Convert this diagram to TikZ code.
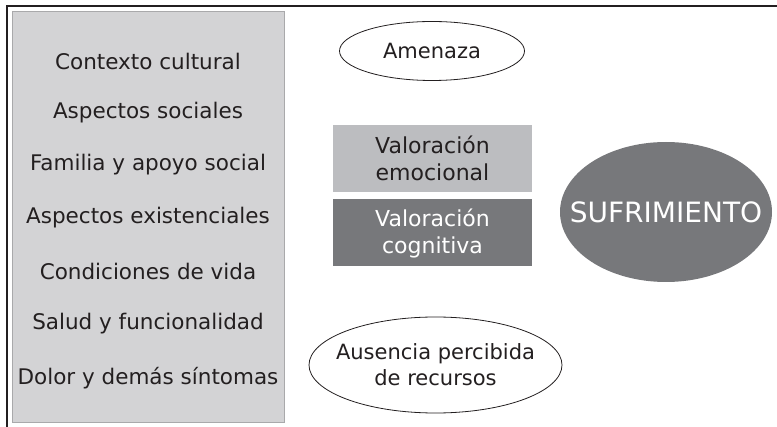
\documentclass[tikz,border=0pt]{standalone}
\usepackage{fontspec}
\setmainfont{DejaVu Sans}
\usetikzlibrary{shapes.geometric}
\definecolor{panelgray}{HTML}{D3D3D5}
\definecolor{panelline}{HTML}{A9A9AB}
\definecolor{lightbox}{HTML}{BCBDC0}
\definecolor{darkbox}{HTML}{77787B}
\definecolor{txt}{HTML}{231F20}
\tikzset{
  factor/.style={font=\fontsize{21.5}{25}\selectfont, text=txt, inner sep=0pt},
  oval/.style={ellipse, draw=txt, line width=0.8pt, fill=white, inner sep=0pt},
  ovaltext/.style={inner sep=0pt, text=txt, align=center, font=\fontsize{21}{26}\selectfont},
  valbox/.style={rectangle, minimum width=199pt, minimum height=67pt, inner sep=0pt, align=center, font=\fontsize{22}{27}\selectfont},
}
\begin{document}
\begin{tikzpicture}[x=1pt,y=1pt]
\useasboundingbox (0,0) rectangle (777,-427);
\draw[line width=2pt, color=txt] (777,-6) -- (7,-6) -- (7,-427);
\node[rectangle, fill=panelgray, draw=panelline, line width=0.6pt, minimum width=272pt, minimum height=411pt, inner sep=0pt] (panel) at (148,-216.5) {};
\node[factor] (f1) at (148,-61) {Contexto cultural};
\node[factor] (f2) at (148,-113) {Aspectos sociales};
\node[factor] (f3) at (148,-165) {Familia y apoyo social};
\node[factor] (f4) at (148,-218) {Aspectos existenciales};
\node[factor] (f5) at (148,-271) {Condiciones de vida};
\node[factor] (f6) at (148,-324) {Salud y funcionalidad};
\node[factor] (f7) at (148,-378) {Dolor y demás síntomas};
\node[oval, minimum width=185pt, minimum height=59pt] (amenaza) at (432,-51) {};
\node[ovaltext] (amenazat) at (amenaza.center) {Amenaza};
\node[valbox, fill=lightbox, text=txt] (emo) at (432.5,-158.5) {Valoración\\emocional};
\node[valbox, fill=darkbox, text=white] (cog) at (432.5,-233) {Valoración\\cognitiva};
\node[ellipse, fill=darkbox, minimum width=212pt, minimum height=140pt, inner sep=0pt] (suf) at (666,-212) {};
\node[inner sep=0pt, text=white, font=\fontsize{28}{33}\selectfont] (suft) at (suf.center) {SUFRIMIENTO};
\node[oval, minimum width=253pt, minimum height=96pt] (aus) at (435.5,-365) {};
\node[ovaltext] (aust) at (aus.center) {Ausencia percibida\\de recursos};
\end{tikzpicture}
\end{document}
